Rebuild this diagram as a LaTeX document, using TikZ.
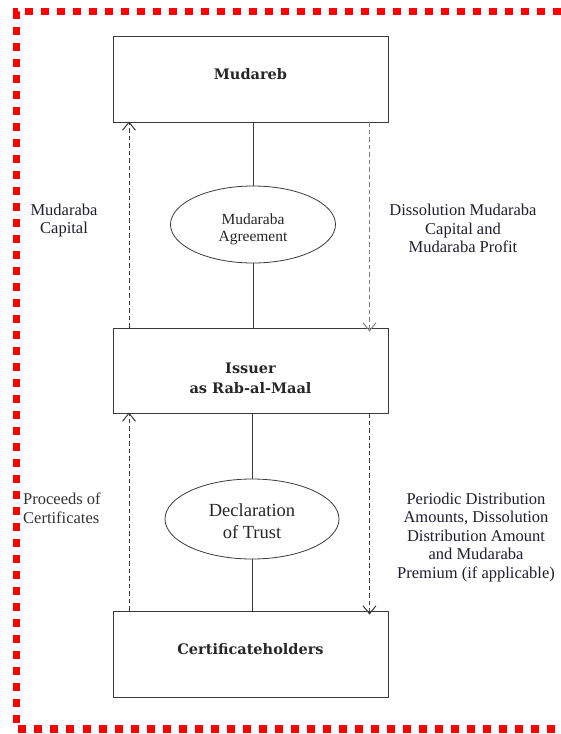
\documentclass[tikz,border=0pt]{standalone}
\usepackage{fontspec}
\setmainfont{Liberation Serif}
\newfontfamily\partyfont{DejaVu Serif}
\usetikzlibrary{arrows.meta,shapes.geometric}
\definecolor{boxline}{HTML}{3A3A3A}
\definecolor{labtext}{HTML}{1E1E30}
\definecolor{frame}{HTML}{FF0000}
\tikzset{
  partybox/.style={draw=boxline, line width=0.9pt, minimum width=275pt, inner sep=0pt},
  partytext/.style={inner sep=0pt, font=\partyfont\bfseries\fontsize{14.5}{20}\selectfont,
     align=center, text=black!85},
  agreement/.style={draw=boxline, ellipse, line width=0.8pt, inner sep=0pt},
  agreetext/.style={inner sep=0pt, align=center, text=black!85},
  solidlink/.style={draw=boxline, line width=0.9pt},
  flowarrow/.style={draw=boxline, line width=1pt, dash pattern=on 4.5pt off 3pt,
     -{Straight Barb[length=8pt,width=13pt,line width=1pt]}},
  flowlabel/.style={inner sep=0pt, align=center, text=labtext, font=\fontsize{16.5}{18.5}\selectfont},
}
\begin{document}
\begin{tikzpicture}[x=1pt,y=-1pt]
\useasboundingbox (0,0) rectangle (561,734);
% red frame
\draw[frame, line width=7.5pt, dash pattern=on 8pt off 8pt]
  (561,11.5) -- (16.5,11.5) -- (16.5,729) -- (561,729);

% boxes
\node[partybox, minimum height=86pt] (mud) at (250.5,79) {};
\node[partybox, minimum height=85pt] (iss) at (250.5,370.5) {};
\node[partybox, minimum height=86pt] (cert) at (250.5,654) {};
\node[partytext] (mudt) at ([yshift=5pt]mud.center) {Mudareb};
\node[partytext] (isst) at ([yshift=-7.5pt]iss.center) {Issuer\\as Rab-al-Maal};
\node[partytext] (certt) at ([yshift=5pt]cert.center) {Certificateholders};

% ellipses
\node[agreement, minimum width=165pt, minimum height=77pt] (e1) at (253,224.5) {};
\node[agreement, minimum width=174pt, minimum height=80pt] (e2) at (252,519) {};
\node[agreetext, font=\fontsize{15.5}{17}\selectfont] (e1t) at ([yshift=-4.5pt]e1.center) {Mudaraba\\Agreement};
\node[agreetext, font=\fontsize{18.5}{22}\selectfont] (e2t) at ([yshift=-2pt]e2.center) {Declaration\\of Trust};

% solid links
\draw[solidlink] (e1.north |- mud.south) -- (e1.north);
\draw[solidlink] (e1.south) -- (e1.south |- iss.north);
\draw[solidlink] (e2.north |- iss.south) -- (e2.north);
\draw[solidlink] (e2.south) -- (e2.south |- cert.north);

% dashed flows
\coordinate (lx) at (129,0);
\coordinate (rx) at (369.5,0);
\draw[flowarrow] (lx |- iss.north) -- ([yshift=1pt]lx |- mud.south);
\draw[flowarrow, draw=gray] (rx |- mud.south) -- ([yshift=-4pt]rx |- iss.north);
\draw[flowarrow] (lx |- cert.north) -- ([yshift=1pt]lx |- iss.south);
\draw[flowarrow] (rx |- iss.south) -- ([yshift=-4pt]rx |- cert.north);

% labels
\node[flowlabel] (l1) at (64,220.5) {Mudaraba\\Capital};
\node[flowlabel] (l2) at (463,228.5) {Dissolution Mudaraba\\Capital and\\Mudaraba Profit};
\node[flowlabel, align=left, anchor=west, text=black!80] (l3) at (23,508.5) {Proceeds of\\Certificates};
\node[flowlabel] (l4) at (476,537.5) {Periodic Distribution\\Amounts, Dissolution\\Distribution Amount\\and Mudaraba\\Premium (if applicable)};
\end{tikzpicture}
\end{document}
